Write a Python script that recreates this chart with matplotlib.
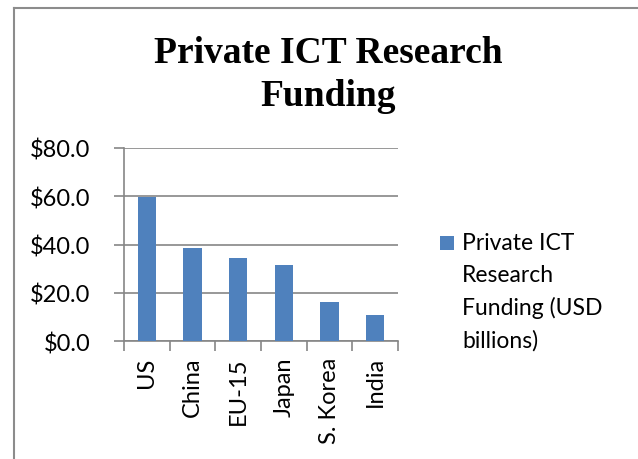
import matplotlib
matplotlib.use("Agg")
import matplotlib.pyplot as plt
from matplotlib.patches import Rectangle
from matplotlib.lines import Line2D
import numpy as np

categories = ["US", "China", "EU-15", "Japan", "S. Korea", "India"]
funding = [59.7, 38.7, 34.5, 31.5, 16.2, 10.6]
series_name = "Private ICT\nResearch\nFunding (USD\nbillions)"
title = "Private ICT Research\nFunding"
y_ticks = [0, 20, 40, 60, 80]

bar_color = "#4F81BD"
grid_color = "#868686"
W, H = 638, 460

fig = plt.figure(figsize=(W / 100, H / 100), dpi=100)
fig.patch.set_facecolor("white")

# outer chart frame (left and top edges)
fig.add_artist(Line2D([14 / W, 14 / W], [0, 1 - 9 / H], transform=fig.transFigure,
                      color="#8c8c8c", lw=1.5))
fig.add_artist(Line2D([14 / W, 1], [1 - 9 / H, 1 - 9 / H], transform=fig.transFigure,
                      color="#8c8c8c", lw=1.5))

ax = fig.add_axes([124 / W, 1 - 342 / H, (398 - 124) / W, (342 - 149) / H])
x = np.arange(len(categories))
ax.bar(x, funding, width=0.4, color=bar_color, zorder=3)

ax.set_xlim(-0.5, len(categories) - 0.5)
ax.set_ylim(0, 80)
ax.set_yticks(y_ticks)
ax.set_yticklabels([f"${v:.1f}" for v in y_ticks], fontfamily="Lato", fontsize=17)
ax.yaxis.grid(True, color=grid_color, lw=1.2, zorder=0)
ax.tick_params(axis="y", length=7, width=1.2, color=grid_color, pad=17)

ax.set_xticks(x)
ax.set_xticklabels(categories, rotation=90, fontfamily="Lato", fontsize=17,
                   va="top", ha="center")
ax.tick_params(axis="x", which="major", length=0, pad=11)
ax.set_xticks(np.arange(-0.5, len(categories), 1.0), minor=True)
ax.tick_params(axis="x", which="minor", length=7, width=1.2, color=grid_color)

for side in ["top", "right"]:
    ax.spines[side].set_visible(False)
for side in ["left", "bottom"]:
    ax.spines[side].set_color(grid_color)
    ax.spines[side].set_linewidth(1.2)

fig.text(328 / W, 1 - 75 / H, title, ha="center", va="center",
         fontfamily="Liberation Serif", fontweight="bold", fontsize=27,
         linespacing=1.3)

# legend
fig.add_artist(Rectangle((440 / W, 1 - 251 / H), 14 / W, 14 / H,
                         transform=fig.transFigure, facecolor=bar_color,
                         edgecolor="none"))
fig.text(462 / W, 1 - 233 / H, series_name, ha="left", va="top",
         fontfamily="Lato", fontsize=16.5, linespacing=1.63)

fig.savefig("out.png", dpi=100)
